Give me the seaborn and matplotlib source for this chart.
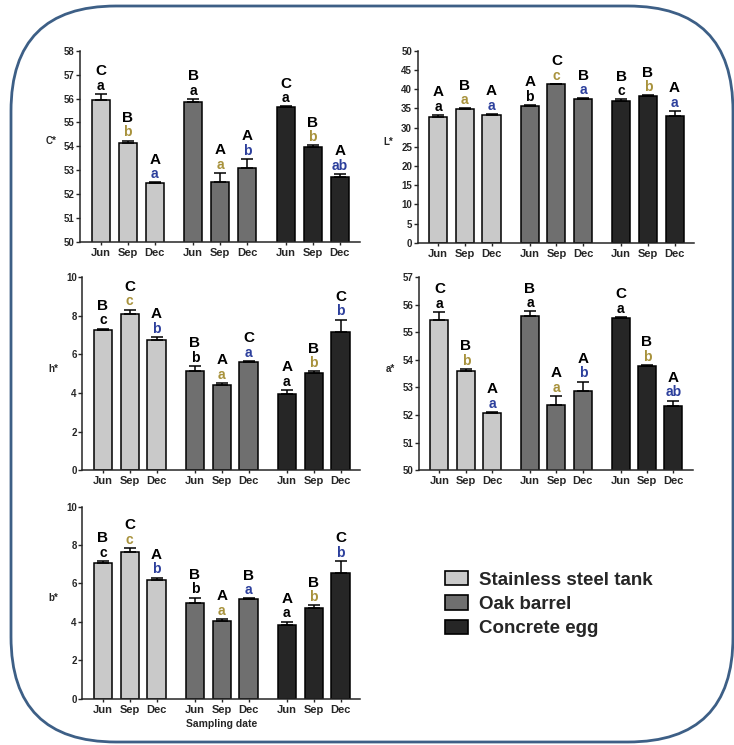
import numpy as np
import pandas as pd
import seaborn as sns
import matplotlib.pyplot as plt
from matplotlib.patches import FancyBboxPatch

sns.set_style("ticks")
plt.rcParams['font.family'] = ['Liberation Sans', 'DejaVu Sans']
plt.rcParams['font.weight'] = 'bold'

# categories
vessels = ["Stainless steel tank", "Oak barrel", "Concrete egg"]
months = ["Jun", "Sep", "Dec"]

# means per vessel (Jun, Sep, Dec) and upper error bars
c_vals = [[55.92, 54.14, 52.47], [55.86, 52.50, 53.10], [55.64, 53.99, 52.74]]
c_err = [[0.26, 0.10, 0.03], [0.13, 0.38, 0.37], [0.03, 0.05, 0.10]]
c_up = [["C", "B", "A"], ["B", "A", "A"], ["C", "B", "A"]]
c_low = [["a", "b", "a"], ["a", "a", "b"], ["a", "b", "ab"]]

l_vals = [[32.8, 34.7, 33.3], [35.6, 41.2, 37.4], [37.0, 38.3, 32.9]]
l_err = [[0.4, 0.3, 0.2], [0.3, 0.2, 0.2], [0.3, 0.1, 1.4]]
l_up = [["A", "B", "A"], ["A", "C", "B"], ["B", "B", "A"]]
l_low = [["a", "a", "a"], ["b", "c", "a"], ["c", "b", "a"]]

h_vals = [[7.24, 8.10, 6.76], [5.15, 4.41, 5.62], [3.93, 5.03, 7.16]]
h_err = [[0.09, 0.22, 0.14], [0.26, 0.12, 0.05], [0.22, 0.09, 0.64]]
h_up = [["B", "C", "A"], ["B", "A", "C"], ["A", "B", "C"]]
h_low = [["c", "c", "b"], ["b", "a", "a"], ["a", "b", "b"]]

a_vals = [[55.46, 53.61, 52.08], [55.60, 52.36, 52.86], [55.52, 53.76, 52.32]]
a_err = [[0.27, 0.06, 0.03], [0.16, 0.34, 0.35], [0.03, 0.05, 0.20]]
a_up = [["C", "B", "A"], ["B", "A", "A"], ["C", "B", "A"]]
a_low = [["a", "b", "a"], ["a", "a", "b"], ["a", "b", "ab"]]

b_vals = [[7.04, 7.62, 6.17], [4.98, 4.04, 5.18], [3.82, 4.72, 6.55]]
b_err = [[0.12, 0.22, 0.14], [0.29, 0.12, 0.04], [0.20, 0.14, 0.62]]
b_up = [["B", "C", "A"], ["B", "A", "B"], ["A", "B", "C"]]
b_low = [["c", "c", "b"], ["b", "a", "a"], ["a", "b", "b"]]

palette = {"Stainless steel tank": "#c9c9c9", "Oak barrel": "#6f6f6f", "Concrete egg": "#262626"}
month_colors = {"Jun": "black", "Sep": "#a8923c", "Dec": "#2c3f9c"}

group_step = 3.43


def make_frame(vals, errs):
    rows = []
    for g, v in enumerate(vessels):
        for m, mon in enumerate(months):
            rows.append({"pos": g * group_step + m, "vessel": v, "month": mon,
                         "value": vals[g][m], "err": errs[g][m]})
    return pd.DataFrame(rows)


def draw_panel(ax, vals, errs, up, low, ylabel, ylim, ystep, label_x):
    df = make_frame(vals, errs)
    sns.barplot(data=df, x="pos", y="value", hue="vessel", hue_order=vessels,
                palette=palette, native_scale=True, dodge=False, width=0.68,
                errorbar=None, edgecolor="black", linewidth=1.1, ax=ax, legend=False)
    ax.errorbar(df["pos"], df["value"], yerr=[np.zeros(len(df)), df["err"]],
                fmt="none", ecolor="black", elinewidth=1.1, capsize=4, capthick=1.1, zorder=5)
    # significance letters: lowercase (month colour) then uppercase above
    for i, row in df.iterrows():
        g, m = divmod(i, 3)
        top = row["value"] + row["err"]
        ax.annotate(low[g][m], (row["pos"], top), xytext=(0, 3), textcoords="offset points",
                    ha="center", va="baseline", fontsize=10, fontweight="bold",
                    color=month_colors[row["month"]], annotation_clip=False)
        ax.annotate(up[g][m], (row["pos"], top), xytext=(0, 13.5), textcoords="offset points",
                    ha="center", va="baseline", fontsize=11, fontweight="bold",
                    color="black", annotation_clip=False)
    ax.set_xlim(-0.77, 2 * group_step + 2 + 0.74)
    ax.set_ylim(*ylim)
    ax.set_yticks(np.arange(ylim[0], ylim[1] + ystep / 2, ystep))
    ax.set_xticks(df["pos"])
    ax.set_xticklabels(months * 3, fontsize=8, fontweight="bold")
    ax.tick_params(axis="y", labelsize=7, length=3, width=1, pad=1)
    ax.tick_params(axis="x", length=2.5, width=1, pad=2)
    ax.set_xlabel("")
    ax.set_ylabel(ylabel, rotation=0, fontsize=7, fontweight="bold")
    ax.yaxis.set_label_coords(label_x, 0.5)
    for lab in ax.get_yticklabels():
        lab.set_fontweight("bold")
    sns.despine(ax=ax)
    for s in ["left", "bottom"]:
        ax.spines[s].set_linewidth(1.1)


fig = plt.figure(figsize=(7.34, 7.45), dpi=100)

ax_c = fig.add_axes([0.109, 0.675, 0.381, 0.257])
ax_l = fig.add_axes([0.569, 0.674, 0.377, 0.258])
ax_h = fig.add_axes([0.112, 0.369, 0.379, 0.259])
ax_a = fig.add_axes([0.571, 0.369, 0.373, 0.259])
ax_b = fig.add_axes([0.112, 0.062, 0.379, 0.258])

draw_panel(ax_c, c_vals, c_err, c_up, c_low, "C*", (50, 58), 1, -0.105)
draw_panel(ax_l, l_vals, l_err, l_up, l_low, "L*", (0, 50), 5, -0.105)
draw_panel(ax_h, h_vals, h_err, h_up, h_low, "h*", (0, 10), 2, -0.105)
draw_panel(ax_a, a_vals, a_err, a_up, a_low, "a*", (50, 57), 1, -0.105)
draw_panel(ax_b, b_vals, b_err, b_up, b_low, "b*", (0, 10), 2, -0.105)
ax_b.set_xlabel("Sampling date", fontsize=7.5, fontweight="bold", labelpad=3)

# legend
handles = [plt.Rectangle((0, 0), 1, 1, facecolor=palette[v], edgecolor="black", linewidth=1.2)
           for v in vessels]
fig.legend(handles, vessels, loc="upper left", bbox_to_anchor=(0.583, 0.256),
           frameon=False, prop={"size": 13.5, "weight": "bold"},
           handlelength=1.25, handleheight=0.8, handletextpad=0.6, labelspacing=0.35)

# rounded frame around the figure
frame = FancyBboxPatch((0.11, 0.03), 7.22, 7.36, boxstyle="round,pad=0,rounding_size=1.05",
                       transform=fig.dpi_scale_trans, facecolor="none",
                       edgecolor="#3d5f86", linewidth=2)
fig.add_artist(frame)

fig.savefig("out.png", dpi=100)
